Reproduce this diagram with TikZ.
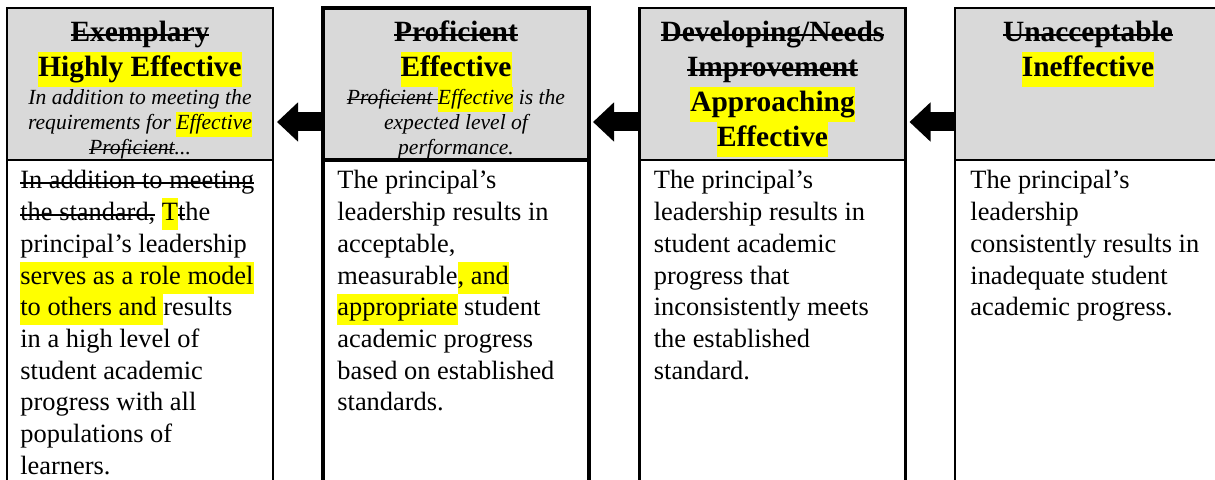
\documentclass[tikz,border=0pt]{standalone}
\usepackage{fontspec}
\setmainfont{Liberation Serif}
\usetikzlibrary{arrows.meta,positioning}
\definecolor{hdgray}{HTML}{D9D9D9}
\definecolor{hlyellow}{HTML}{FFFF00}
\newlength{\strklen}
\newcommand{\strk}[1]{\settowidth{\strklen}{#1}\rlap{\rule[0.42ex]{\strklen}{0.055em}}#1}
\newcommand{\hlt}[1]{{\setlength{\fboxsep}{0pt}\colorbox{hlyellow}{\strut #1}}}
\newcommand{\ttlsize}{\fontsize{14.7}{17.5}\selectfont\bfseries}
\newcommand{\itsize}{\fontsize{10.8}{12.5}\selectfont\itshape}
\newcommand{\bdsize}{\fontsize{13.2}{15.85}\selectfont}

\begin{document}
\begin{tikzpicture}[x=0.5pt,y=-0.5pt,
    hdbox/.style={draw, fill=hdgray, line width=1.1pt, minimum width=133pt, minimum height=76pt, inner sep=0pt, outer sep=0pt},
    bdbox/.style={draw, fill=white, line width=1.1pt, minimum width=133pt, minimum height=170pt, inner sep=0pt, outer sep=0pt},
    thickbox/.style={line width=2.2pt},
    ttl/.style={font=\ttlsize, align=center, inner sep=0pt},
    itl/.style={font=\itsize, align=center, inner sep=0pt},
    bdt/.style={font=\bdsize, align=left, inner sep=0pt, anchor=north west},
    blockarr/.style={line width=9.5pt, -{Triangle[length=10.5pt,width=19pt]}, shorten >=2pt}]
        \clip (0,0) rectangle (1215,480);
        \node[hdbox] (hd1) at (140,84) {};
        \node[hdbox, thickbox] (hd2) at (456,84) {};
        \node[hdbox] (hd3) at (772.5,84) {};
        \node[hdbox] (hd4) at (1088,84) {};
        \node[bdbox, below=0pt of hd1] (bd1) {};
        \node[bdbox, thickbox, below=0pt of hd2] (bd2) {};
        \node[bdbox, below=0pt of hd3] (bd3) {};
        \node[bdbox, below=0pt of hd4] (bd4) {};
        \coordinate (arrowrow) at (0,122);
        \draw[blockarr] (hd2.west |- arrowrow) -- (hd1.east |- arrowrow);
        \draw[blockarr] (hd3.west |- arrowrow) -- (hd2.east |- arrowrow);
        \draw[blockarr] (hd4.west |- arrowrow) -- (hd3.east |- arrowrow);
        \node[ttl, below=4.4pt of hd1.north] (t1) {\strk{Exemplary}\strut\\\hlt{Highly Effective}};
        \node[itl, below=-0.5pt of t1] (d1) {In addition to meeting the\strut\\requirements for \hlt{Effective}\\\strk{Proficient}...\strut};
        \node[ttl, below=4.4pt of hd2.north] (t2) {\strk{Proficient}\strut\\\hlt{Effective}};
        \node[itl, below=-0.5pt of t2] (d2) {\strk{Proficient }\hlt{Effective} is the\\expected level of\strut\\performance.\strut};
        \node[ttl, below=4.4pt of hd3.north] (t3) {\strk{Developing/Needs}\strut\\\strk{Improvement}\strut\\\hlt{Approaching}\\\hlt{Effective}};
        \node[ttl, below=4.4pt of hd4.north] (t4) {\strk{Unacceptable}\strut\\\hlt{Ineffective}};
        \node[bdt] (b1) at ([xshift=6.5pt,yshift=-3.2pt]bd1.north west) {\strut\strk{In addition to meeting}\\
            \strk{the standard,} \hlt{T}\strk{t}he\\
            principal’s leadership\\
            \hlt{serves as a role model}\\
            \hlt{to others and }results\\
            in a high level of\\
            student academic\\
            progress with all\\
            populations of\\
            learners.};
        \node[bdt] (b2) at ([xshift=7pt,yshift=-3.2pt]bd2.north west) {\strut The principal’s\\
            leadership results in\\
            acceptable,\\
            measurable\hlt{, and}\\
            \hlt{appropriate} student\\
            academic progress\\
            based on established\\
            standards.};
        \node[bdt] (b3) at ([xshift=7pt,yshift=-3.2pt]bd3.north west) {\strut The principal’s\\
            leadership results in\\
            student academic\\
            progress that\\
            inconsistently meets\\
            the established\\
            standard.};
        \node[bdt] (b4) at ([xshift=7.5pt,yshift=-3.2pt]bd4.north west) {\strut The principal’s\\
            leadership\\
            consistently results in\\
            inadequate student\\
            academic progress.};
\end{tikzpicture}
\end{document}
